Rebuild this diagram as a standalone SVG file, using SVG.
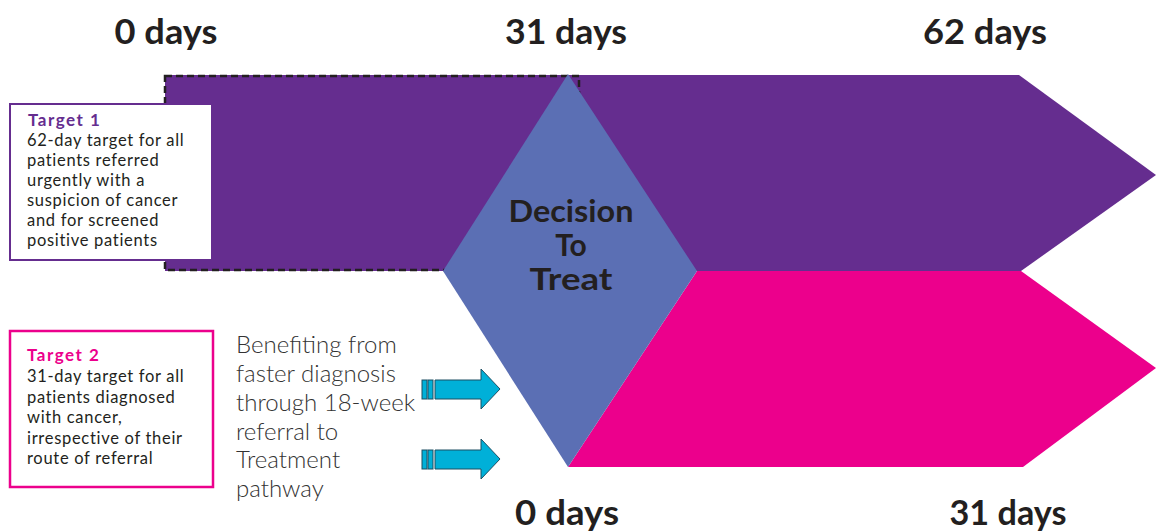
<svg xmlns="http://www.w3.org/2000/svg" width="1156" height="531" viewBox="0 0 1156 531">
<style>
.title{font-family:Lato,"Open Sans",sans-serif;font-weight:700;font-size:34px;fill:#231F20;text-anchor:middle}
.dtt{font-family:Lato,"Open Sans",sans-serif;font-weight:700;font-size:30px;fill:#231F20;text-anchor:middle}
.body{font-family:Lato,"Open Sans",sans-serif;font-size:16.5px;letter-spacing:0.7px;fill:#231F20}
.head1{font-family:Lato,"Open Sans",sans-serif;font-weight:700;font-size:17px;letter-spacing:1.5px;fill:#652D8F}
.head2{font-family:Lato,"Open Sans",sans-serif;font-weight:700;font-size:17px;letter-spacing:1.5px;fill:#EC008C}
.ben{font-family:Lato,"Open Sans",sans-serif;font-weight:300;font-size:24px;fill:#333333}
.arrow{fill:#00B0D8;stroke:#1D4F63;stroke-width:1}
</style>
<rect width="1156" height="531" fill="#ffffff"/>
<g id="target1-band">
<polygon points="165,75 1019,75 1156,175 1021,271 165,271" fill="#652D8F"/>
<rect x="165" y="76" width="414" height="194" fill="none" stroke="#231F20" stroke-width="2.5" stroke-dasharray="7,4"/>
</g>
<g id="target2-band">
<polygon points="697,271 1021,271 1156,368 1023,467 568,467" fill="#EC008C"/>
</g>
<g id="decision">
<polygon points="568,74 697,271 568,467 443,271" fill="#5B6FB4"/>
<text class="dtt" x="571" y="222" textLength="125" lengthAdjust="spacingAndGlyphs">Decision</text>
<text class="dtt" x="571" y="256">To</text>
<text class="dtt" x="571" y="290" textLength="83" lengthAdjust="spacingAndGlyphs">Treat</text>
</g>
<g id="labels">
<text class="title" x="166" y="44" textLength="103" lengthAdjust="spacingAndGlyphs">0 days</text>
<text class="title" x="566" y="44" textLength="122" lengthAdjust="spacingAndGlyphs">31 days</text>
<text class="title" x="985" y="44" textLength="124" lengthAdjust="spacingAndGlyphs">62 days</text>
<text class="title" x="567" y="525" textLength="104" lengthAdjust="spacingAndGlyphs">0 days</text>
<text class="title" x="1008" y="525" textLength="117" lengthAdjust="spacingAndGlyphs">31 days</text>
</g>
<g id="target1">
<rect x="10" y="104" width="202" height="156" fill="#ffffff" stroke="#652D8F" stroke-width="2"/>
<text class="head1" x="28" y="126">Target 1</text>
<text class="body" x="27" y="146">62-day target for all</text>
<text class="body" x="27" y="166">patients referred</text>
<text class="body" x="27" y="186">urgently with a</text>
<text class="body" x="27" y="206">suspicion of cancer</text>
<text class="body" x="27" y="226">and for screened</text>
<text class="body" x="27" y="246">positive patients</text>
</g>
<g id="target2">
<rect x="10" y="331" width="203" height="156" fill="#ffffff" stroke="#EC008C" stroke-width="2.5"/>
<text class="head2" x="27" y="361">Target 2</text>
<text class="body" x="27" y="382">31-day target for all</text>
<text class="body" x="27" y="403">patients diagnosed</text>
<text class="body" x="27" y="423">with cancer,</text>
<text class="body" x="27" y="444">irrespective of their</text>
<text class="body" x="27" y="464">route of referral</text>
</g>
<g id="benefit">
<text class="ben" x="236" y="353">Benefiting from</text>
<text class="ben" x="236" y="382">faster diagnosis</text>
<text class="ben" x="236" y="411">through 18-week</text>
<text class="ben" x="236" y="440">referral to</text>
<text class="ben" x="236" y="468">Treatment</text>
<text class="ben" x="236" y="497">pathway</text>
</g>
<g id="connectors">
<g id="arrow1">
<rect class="arrow" x="422" y="380" width="5" height="19"/>
<rect class="arrow" x="428" y="380" width="5" height="19"/>
<polygon class="arrow" points="435,380 481,380 481,369 500,389 481,409 481,399 435,399"/>
</g>
<g id="arrow2">
<rect class="arrow" x="422" y="450" width="5" height="19"/>
<rect class="arrow" x="428" y="450" width="5" height="19"/>
<polygon class="arrow" points="435,450 481,450 481,439 500,459 481,479 481,469 435,469"/>
</g>
</g>
</svg>
